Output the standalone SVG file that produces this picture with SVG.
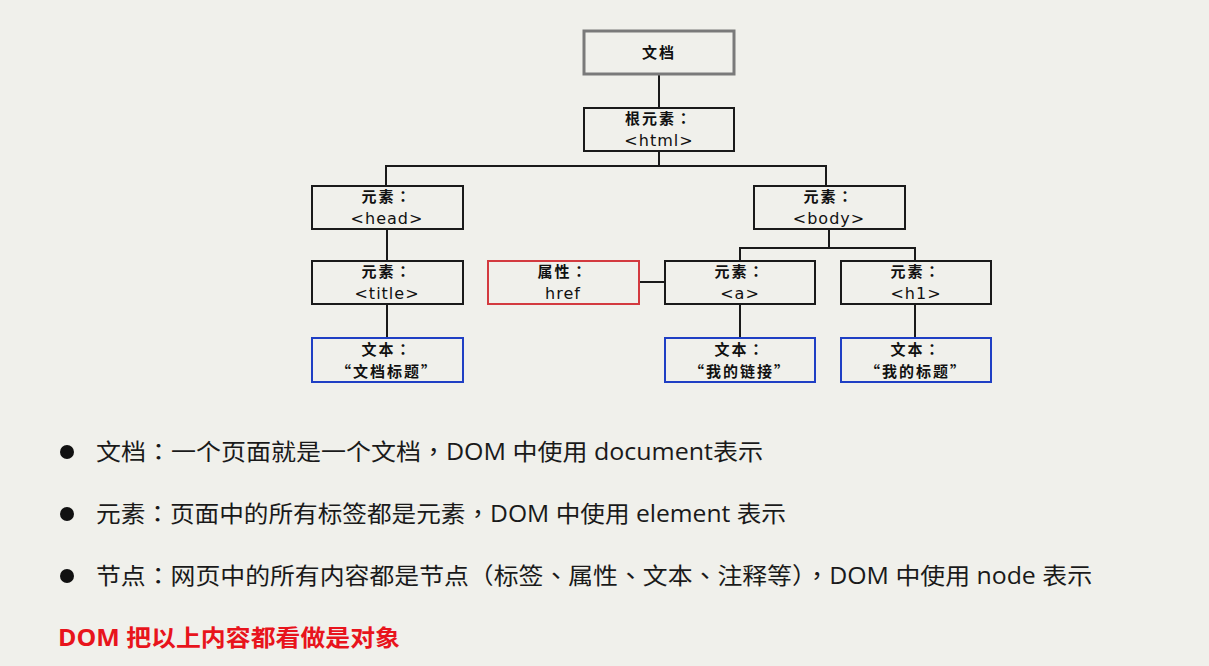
<svg xmlns="http://www.w3.org/2000/svg" width="1209" height="666" viewBox="0 0 1209 666">
<style>
.bg{fill:#f0f0eb}
.box{fill:#f0f0eb;stroke:#1a1a1a;stroke-width:2}
.doc{fill:#f0f0eb;stroke:#7a7a7a;stroke-width:3}
.attr{fill:#f0f0eb;stroke:#d33a3f;stroke-width:2}
.txt{fill:#f0f0eb;stroke:#1f3fc4;stroke-width:2}
.l1{font-family:"Noto Sans CJK TC","Liberation Sans",sans-serif;font-size:15px;font-weight:bold;letter-spacing:2px;fill:#111;text-anchor:middle}
.l2{font-family:"DejaVu Sans","Liberation Sans",sans-serif;font-size:16px;letter-spacing:1px;fill:#111;text-anchor:middle}
.c{fill:none;stroke:#1a1a1a;stroke-width:2}
.b{font-family:"Open Sans","Noto Sans CJK TC",sans-serif;font-size:23px;fill:#1a1a1a}
.r{font-family:"Open Sans","Noto Sans CJK SC",sans-serif;font-size:23px;font-weight:bold;fill:#e8141c}
</style>
<rect class="bg" x="0" y="0" width="1209" height="666"/>
<g id="connectors">
<path class="c" d="M659 74V108"/>
<path class="c" d="M659 151V166M386 186V166H826V186"/>
<path class="c" d="M387 229V261"/>
<path class="c" d="M387 304V338"/>
<path class="c" d="M829 229V248M740 261V248H915V261"/>
<path class="c" d="M639 282H665"/>
<path class="c" d="M740 304V338"/>
<path class="c" d="M915 304V338"/>
</g>
<g id="node-document"><rect class="doc" x="584" y="31" width="150" height="43"/><text class="l1" x="659" y="58">文档</text></g>
<g id="node-html"><rect class="box" x="584" y="108" width="150" height="43"/><text class="l1" x="659" y="124">根元素：</text><text class="l2" x="659" y="146">&lt;html&gt;</text></g>
<g id="node-head"><rect class="box" x="312" y="186" width="151" height="43"/><text class="l1" x="387" y="202">元素：</text><text class="l2" x="387" y="224">&lt;head&gt;</text></g>
<g id="node-body"><rect class="box" x="754" y="186" width="151" height="43"/><text class="l1" x="829" y="202">元素：</text><text class="l2" x="829" y="224">&lt;body&gt;</text></g>
<g id="node-title"><rect class="box" x="312" y="261" width="151" height="43"/><text class="l1" x="387" y="277">元素：</text><text class="l2" x="387" y="299">&lt;title&gt;</text></g>
<g id="node-href"><rect class="attr" x="488" y="261" width="151" height="43"/><text class="l1" x="563" y="277">属性：</text><text class="l2" x="563" y="299">href</text></g>
<g id="node-a"><rect class="box" x="665" y="261" width="150" height="43"/><text class="l1" x="740" y="277">元素：</text><text class="l2" x="740" y="299">&lt;a&gt;</text></g>
<g id="node-h1"><rect class="box" x="841" y="261" width="150" height="43"/><text class="l1" x="916" y="277">元素：</text><text class="l2" x="916" y="299">&lt;h1&gt;</text></g>
<g id="node-text-title"><rect class="txt" x="312" y="338" width="151" height="44"/><text class="l1" x="387" y="355">文本：</text><text class="l1" x="387" y="377">“文档标题”</text></g>
<g id="node-text-a"><rect class="txt" x="665" y="338" width="150" height="44"/><text class="l1" x="740" y="355">文本：</text><text class="l1" x="740" y="377">“我的链接”</text></g>
<g id="node-text-h1"><rect class="txt" x="841" y="338" width="150" height="44"/><text class="l1" x="916" y="355">文本：</text><text class="l1" x="916" y="377">“我的标题”</text></g>
<g id="notes">
<circle cx="67" cy="452" r="7" fill="#111"/>
<circle cx="67" cy="514" r="7" fill="#111"/>
<circle cx="67" cy="576" r="7" fill="#111"/>
<text class="b" x="96" y="460" textLength="667" lengthAdjust="spacingAndGlyphs">文档：一个页面就是一个文档，DOM 中使用 document表示</text>
<text class="b" x="96" y="522" textLength="690" lengthAdjust="spacingAndGlyphs">元素：页面中的所有标签都是元素，DOM 中使用 element 表示</text>
<text class="b" x="96" y="584" textLength="996" lengthAdjust="spacingAndGlyphs">节点：网页中的所有内容都是节点（标签、属性、文本、注释等），DOM 中使用 node 表示</text>
<text class="r" x="58" y="646" textLength="342" lengthAdjust="spacingAndGlyphs">DOM 把以上内容都看做是对象</text>
</g>
</svg>
